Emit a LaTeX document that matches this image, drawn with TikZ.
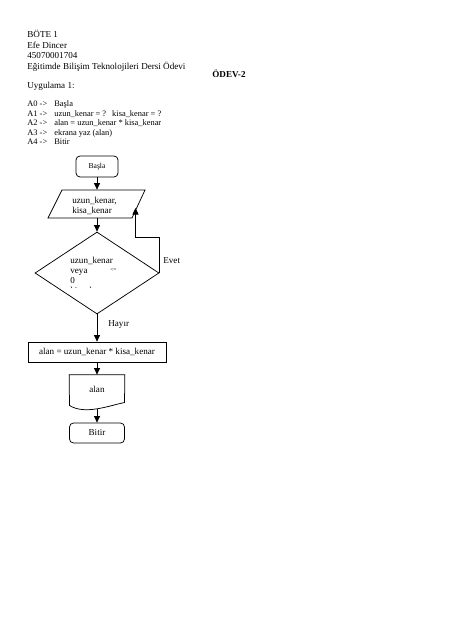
\documentclass[tikz,border=0pt]{standalone}
\usepackage{fontspec}
\setmainfont{Liberation Serif}
\usetikzlibrary{shapes.geometric,arrows.meta}
\begin{document}
\begin{tikzpicture}[x=1pt,y=-1pt, line width=0.75pt,
  arr/.style={-{Triangle[length=6.5pt,width=6pt]}},
  hdr/.style={anchor=base west,inner sep=0,font=\fontsize{9.1}{10.5}\selectfont},
  lst/.style={anchor=base west,inner sep=0,font=\fontsize{8.4}{9.6}\selectfont},
  fc/.style={font=\fontsize{9.1}{10.5}\selectfont},
  fctxt/.style={fc,anchor=base west,inner sep=0},
  box/.style={draw,fc,inner sep=0},
  ghost/.style={inner sep=0},
]
\useasboundingbox[fill=white] (0,0) rectangle (452,640);

% header
\node[hdr] (h1) at (27,37.5) {BÖTE 1};
\node[hdr] (h2) at (27,48) {Efe Dincer};
\node[hdr] (h3) at (27,58.5) {45070001704};
\node[hdr] (h4) at (27,69) {Eğitimde Bilişim Teknolojileri Dersi Ödevi};
\node[hdr,font=\fontsize{9.1}{10.5}\selectfont\bfseries] (odev) at (212,77) {ÖDEV-2};
\node[hdr] (h5) at (27,88.5) {Uygulama 1:};

% list
\node[lst] (a0) at (27,106.5) {A0 ->};
\node[lst] (a0t) at (54,106.5) {Başla};
\node[lst] (a1) at (27,116) {A1 ->};
\node[lst] (a1t) at (54,116) {uzun\_kenar = ?\hspace{6pt}kisa\_kenar = ?};
\node[lst] (a2) at (27,125.5) {A2 ->};
\node[lst] (a2t) at (54,125.5) {alan = uzun\_kenar * kisa\_kenar};
\node[lst] (a3) at (27,135) {A3 ->};
\node[lst] (a3t) at (54,135) {ekrana yaz (alan)};
\node[lst] (a4) at (27,144.5) {A4 ->};
\node[lst] (a4t) at (54,144.5) {Bitir};

% flowchart
\node[box, rounded corners=4pt, minimum width=42, minimum height=21,
      font=\fontsize{7.6}{9}\selectfont] (basla) at (97,166.5) {Başla};

\node[ghost, minimum width=77, minimum height=28] (inp) at (97,204) {};
\draw (48,218) -- (62,190) -- (145,190) -- (132,218) -- cycle;
\node[fctxt] (inpt1) at (72,203) {uzun\_kenar,};
\node[fctxt] (inpt2) at (72,213.5) {kisa\_kenar};

\node[diamond, draw, minimum width=124, minimum height=82, inner sep=0] (dec) at (97,273) {};
\node[fctxt] (d1) at (70,263) {uzun\_kenar};
\node[fctxt] (d2) at (70,273) {veya};
\node[fctxt,font=\fontsize{5.5}{6}\selectfont] (d3) at (110,271.5) {<=};
\node[fctxt] (d4) at (70,283) {0};
\begin{scope}
\clip (60,285) rectangle (130,287.2);
\node[fctxt] (d5) at (70,293) {kisa\_kenar};
\end{scope}

\node[box, minimum width=138, minimum height=20] (alan) at (97,352) {alan = uzun\_kenar * kisa\_kenar};

\node[ghost, minimum width=55, minimum height=30] (doc) at (97,390) {};
\draw (doc.north west) -- (doc.north east) -- (124.5,402.5)
  .. controls (108,406) and (85,415) .. (69.5,405.5) -- cycle;
\node[fc, inner sep=0] (doct) at (97,389) {alan};
\coordinate (docb) at (97,408.8);

\node[box, rounded corners=4pt, minimum width=55, minimum height=20] (bitir) at (97,433) {Bitir};

% connectors
\draw[arr] (basla) -- (inp.north);
\draw[arr] (inp.south) -- (dec.north);
\coordinate (evettip) at (135.5,208);
\draw[arr] (dec.east) -- ++(0,-36) -| (evettip);
\node[fc, anchor=west, inner sep=0] (evet) at (163,261) {Evet};
\draw[arr] (dec.south) -- (alan.north);
\node[fc, anchor=west, inner sep=0] (hayir) at (108,324.5) {Hayır};
\draw[arr] (alan.south) -- (doc.north);
\draw[arr] (docb) -- (bitir.north);
\end{tikzpicture}
\end{document}
